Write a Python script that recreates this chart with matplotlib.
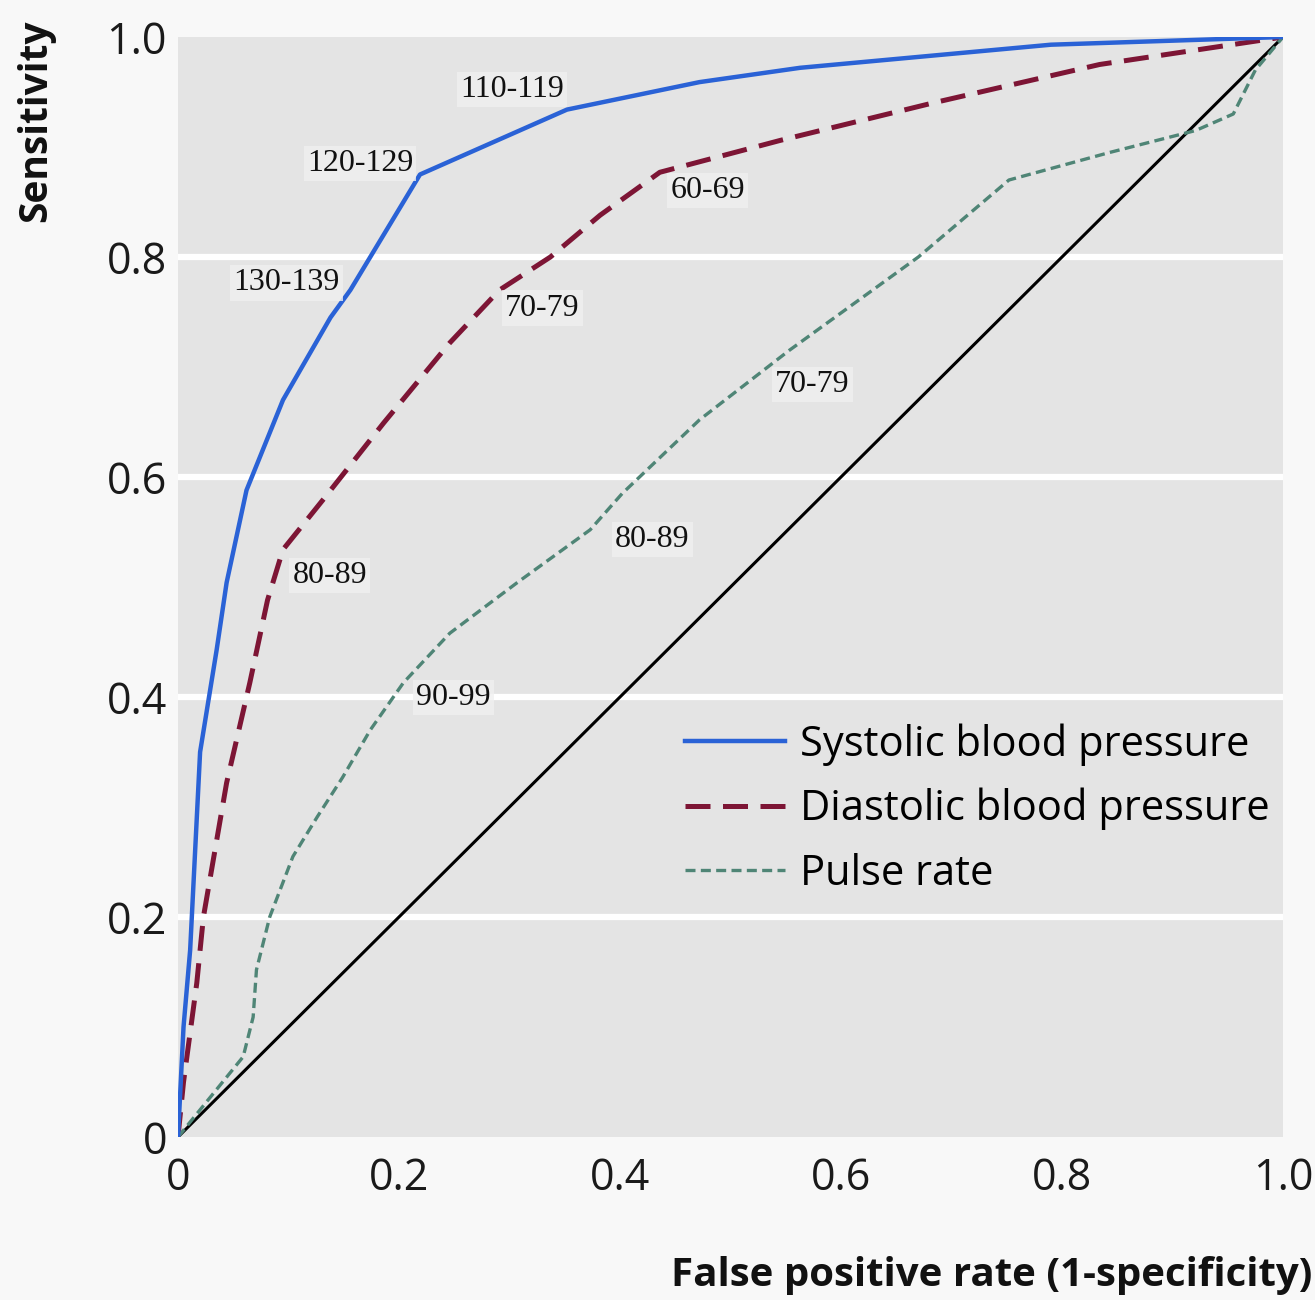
import matplotlib
matplotlib.use('Agg')
import matplotlib.pyplot as plt

# ROC points (false positive rate, sensitivity)
sys_fpr = [0, 0.005, 0.011, 0.02, 0.035, 0.044, 0.062, 0.095, 0.138, 0.156, 0.219, 0.352, 0.472, 0.563, 0.79, 1.0]
sys_sens = [0, 0.1, 0.17, 0.35, 0.443, 0.504, 0.588, 0.67, 0.745, 0.77, 0.875, 0.934, 0.959, 0.972, 0.993, 1.0]

dia_fpr = [0, 0.005, 0.017, 0.023, 0.044, 0.065, 0.081, 0.095, 0.131, 0.186, 0.246, 0.291, 0.337, 0.382, 0.436, 0.545, 0.683, 0.834, 1.0]
dia_sens = [0, 0.05, 0.14, 0.2, 0.322, 0.413, 0.488, 0.534, 0.579, 0.649, 0.722, 0.77, 0.8, 0.838, 0.877, 0.906, 0.94, 0.975, 1.0]

pul_fpr = [0, 0.059, 0.068, 0.071, 0.083, 0.104, 0.126, 0.149, 0.174, 0.204, 0.246, 0.307, 0.373, 0.402, 0.472, 0.553, 0.67, 0.752, 0.843, 0.921, 0.955, 0.975, 1.0]
pul_sens = [0, 0.073, 0.109, 0.152, 0.2, 0.255, 0.291, 0.327, 0.37, 0.413, 0.458, 0.504, 0.552, 0.585, 0.652, 0.715, 0.8, 0.87, 0.895, 0.915, 0.93, 0.97, 1.0]

# threshold labels (mm Hg / beats per min) and the index of the point they mark
sys_labels = ['130-139', '120-129', '110-119']
sys_label_idx = [9, 10, 11]
dia_labels = ['80-89', '70-79', '60-69']
dia_label_idx = [7, 11, 14]
pul_labels = ['90-99', '80-89', '70-79']
pul_label_idx = [9, 12, 15]

ticks = [0, 0.2, 0.4, 0.6, 0.8, 1.0]
tick_labels = ['0', '0.2', '0.4', '0.6', '0.8', '1.0']

series_names = ['Systolic blood pressure', 'Diastolic blood pressure', 'Pulse rate']

# label offsets in pixels from the marked point
sys_off = [(-64, 7), (-60, 11), (-55, 20)]
dia_off = [(47, -26), (43, -18), (48, -18)]
pul_off = [(50, -15), (62, -10), (23, -34)]

plt.rcParams['font.family'] = ['Open Sans', 'DejaVu Sans']

fig = plt.figure(figsize=(13.15, 13.0), dpi=100, facecolor='#f8f8f8')
ax = fig.add_axes([178 / 1315, 1 - 1137 / 1300, 1105 / 1315, 1100 / 1300])
ax.set_facecolor('#e4e4e4')

# white bands between the grey strips
for g in ticks[1:-1]:
    ax.axhline(g, color='white', lw=4.5, zorder=1)

ax.plot([0, 1], [0, 1], color='black', lw=2.2, zorder=2)
ax.plot(sys_fpr, sys_sens, color='#2a62d6', lw=3.2, label=series_names[0], zorder=4)
ax.plot(dia_fpr, dia_sens, color='#7d1535', lw=3.6, ls=(0, (5, 2.5)), label=series_names[1], zorder=3)
ax.plot(pul_fpr, pul_sens, color='#4f8576', lw=2.4, ls=(0, (3, 1.6)), label=series_names[2], zorder=3)

lab_font = dict(family=['Liberation Serif', 'DejaVu Serif'], fontsize=23, color='#111111')
box = dict(boxstyle='square,pad=0.1', facecolor='#f0f0f0', edgecolor='none', alpha=0.8)
for xs, ys, labs, idx, offs in [(sys_fpr, sys_sens, sys_labels, sys_label_idx, sys_off),
                                (dia_fpr, dia_sens, dia_labels, dia_label_idx, dia_off),
                                (pul_fpr, pul_sens, pul_labels, pul_label_idx, pul_off)]:
    for lab, i, off in zip(labs, idx, offs):
        ax.annotate(lab, (xs[i], ys[i]), xytext=off, textcoords='offset pixels',
                    ha='center', va='center', bbox=box, zorder=5, **lab_font)

ax.set_xlim(0, 1)
ax.set_ylim(0, 1)
ax.set_xticks(ticks)
ax.set_xticklabels(tick_labels)
ax.set_yticks(ticks)
ax.set_yticklabels(tick_labels)
ax.tick_params(length=0, labelsize=31, colors='#1a1a1a')
ax.tick_params(axis='x', pad=14)
ax.tick_params(axis='y', pad=8)
for s in ax.spines.values():
    s.set_visible(False)

ax.legend(loc='upper left', bbox_to_anchor=(0.459, 0.376), frameon=False,
          fontsize=30, handlelength=2.4, handletextpad=0.36, labelspacing=0.53,
          borderpad=0, borderaxespad=0)

fig.text(0.027, 0.985, 'Sensitivity', rotation=90, ha='center', va='top',
         fontsize=28, fontweight='bold', color='#111111')
fig.text(0.998, 0.019, 'False positive rate (1-specificity)', ha='right', va='center',
         fontsize=29, fontweight='bold', color='#111111')

fig.savefig('out.png', dpi=100, facecolor=fig.get_facecolor())
